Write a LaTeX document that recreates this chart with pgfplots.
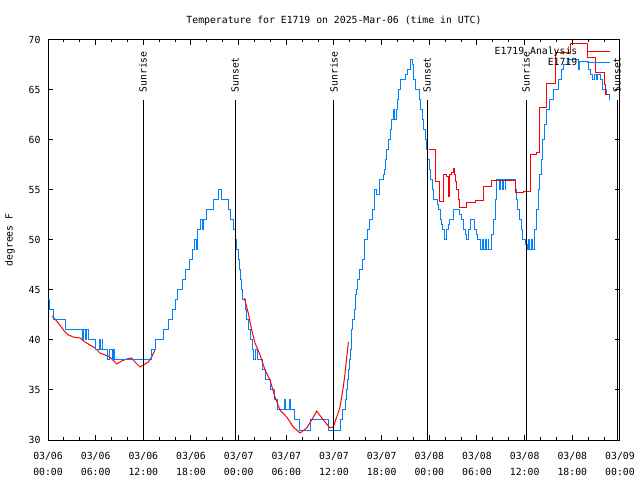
\documentclass[border=0pt]{standalone}
\usepackage{fontspec}
\setmainfont{DejaVu Sans Mono}
\usepackage{pgfplots}
\pgfplotsset{compat=1.18}
\definecolor{obsblue}{RGB}{0,128,255}
\newcommand\f{\fontsize{9.8bp}{11bp}\selectfont}
\begin{document}
\begin{tikzpicture}
\useasboundingbox (0,0) rectangle (640bp,480bp);
\begin{axis}[
  at={(48bp,40bp)}, anchor=south west,
  scale only axis, width=572bp, height=400bp,
  xmin=0, xmax=72, ymin=30, ymax=70,
  axis line style={line width=1bp, black},
  tick align=inside,
  major tick length=5bp, minor tick length=2.5bp,
  tick style={black, line width=1bp},
  xtick={0,6,...,72},
  minor xtick={0,2,...,72},
  xticklabels={{03/06\\00:00},{03/06\\06:00},{03/06\\12:00},{03/06\\18:00},
    {03/07\\00:00},{03/07\\06:00},{03/07\\12:00},{03/07\\18:00},
    {03/08\\00:00},{03/08\\06:00},{03/08\\12:00},{03/08\\18:00},{03/09\\00:00}},
  xticklabel style={align=center, font=\fontsize{9.8bp}{16bp}\selectfont, anchor=north, yshift=-9bp},
  ytick={30,35,...,70},
  yticklabel style={font=\f, xshift=-4bp},
  /pgf/number format/assume math mode=true,
  title={Temperature for E1719 on 2025-Mar-06 (time in UTC)},
  title style={font=\f, at={(axis description cs:0.5,1)}, anchor=center, yshift=13bp},
  ylabel={degrees F},
  ylabel style={font=\f, at={(axis description cs:-0.0664,0.5)}, anchor=center},
  legend plot pos=right,
  legend image code/.code={\draw[#1, line width=1bp] (0bp,0bp) -- (23bp,0bp);},
  legend style={draw=none, fill=none, font=\f, at={(axis description cs:0.9895,0.992)}, anchor=north east,
    row sep=-2bp, cells={anchor=east}, /tikz/every odd column/.style={column sep=7.5bp}},
  clip=false,
]
% analysis (red)
\addplot[red, line width=1bp] coordinates {
(0.54,42.4)(1.30,41.7)(2.14,40.8)(2.56,40.5)(3.18,40.3)(4.03,40.2)(4.66,39.8)(5.29,39.5)(5.92,39.2)(6.55,38.7)(7.18,38.5)(7.80,38.3)(8.65,37.6)(9.28,37.9)(9.91,38.1)(10.54,38.2)(10.95,37.8)(11.58,37.3)(12.00,37.5)(12.63,37.8)(13.05,38.3)(13.47,39.0)
};
\addlegendentry{E1719 Analysis}
\addplot[obsblue, line width=1bp, const plot] coordinates {
(0.00,44)(0.25,43)(0.63,42)(2.14,41)(4.37,40)(4.53,41)(4.66,40)(4.85,41)(5.04,40)(6.04,39)(6.42,40)(6.55,39)(6.80,40)(6.92,39)(7.55,38)(7.80,39)(8.06,38)(8.25,39)(8.37,38)
(13.09,39)(13.53,40)(14.48,41)(15.11,42)(15.61,43)(15.99,44)(16.24,45)(16.87,46)(17.37,47)(17.75,48)(18.25,49)(18.50,50)(18.69,49)(18.88,51)(19.20,52)(19.39,51)(19.57,52)(20.01,53)(20.77,54)(21.46,55)(21.84,54)(22.66,53)(22.91,52)(23.29,51)(23.54,50)(23.73,49)(23.98,48)(24.11,47)(24.23,46)(24.36,45)(24.48,44)(24.86,43)(24.99,42)(25.18,41)(25.55,40)(25.74,39)(25.87,38)(26.18,39)(26.37,38)(26.94,37)(27.44,36)(28.07,35)(28.45,34)(28.95,33)(29.71,34)(29.89,33)(30.34,34)(30.53,33)(31.09,32)(31.60,31)(32.98,32)(35.25,31)(36.76,32)(37.13,33)(37.39,34)(37.57,35)(37.70,36)(37.83,37)(37.95,38)(38.08,39)(38.20,41)(38.33,42)(38.52,43)(38.65,44.5)(38.77,45)(38.90,46)(39.27,47)(39.53,48)(39.78,49)(39.90,50)(40.16,51)(40.53,52)(40.79,53)(41.04,54)(41.16,55)(41.41,54.5)(41.67,55)(41.79,56)(42.17,56.5)(42.36,57)(42.42,58)(42.67,59)(42.86,60)(43.05,61)(43.30,62)(43.43,63)(43.62,62)(43.81,63)(43.99,64)(44.18,65)(44.31,66)(44.94,66.5)(45.19,67)(45.69,68)(45.88,67.5)(46.07,66)(46.32,65)(46.70,64)(46.89,63)(47.08,62)(47.27,61)(47.46,60)(47.65,59)(47.83,58)(48.02,57)(48.21,56)(48.34,55)(48.53,54)(48.97,53.5)(49.16,53)(49.35,52)(49.53,51.5)(49.72,51)(49.91,50.5)(49.97,50)(50.10,51)(50.35,51.5)(50.60,52)(50.98,53)(51.74,52.5)(51.99,52)(52.24,51)(52.49,50.5)(52.68,50)(52.87,51)(53.12,52)(53.63,51)(53.88,50.5)(54.07,50)(54.38,49)(54.63,50)(54.76,49)(55.01,50)(55.14,49)(55.39,50)(55.51,49)(55.77,50.5)(56.02,52)(56.27,54)(56.45,56)(56.77,55)(56.90,56)(57.15,55)(57.28,56)(57.53,55)(57.65,56)(58.85,55)(58.97,54)(59.16,53)(59.35,52)(59.54,51)(59.79,50)(60.05,49.5)(60.30,49)(60.49,50)(60.61,49)(60.80,50)(60.93,49)(61.18,50)(61.30,51)(61.49,53)(61.68,55)(61.87,56.5)(62.06,58)(62.25,60)(62.44,61.5)(62.69,63)(63.07,64)(63.57,65)(64.20,66)(64.58,67)(64.95,67.5)(65.33,68)(66.72,67)(66.91,67.8)(67.98,67)(68.23,66.5)(68.48,66)(68.73,66.5)(68.98,66)(69.23,66.5)(69.49,66)(69.86,65)(70.24,64.5)(70.62,64)(70.74,64)
};
\addlegendentry{E1719}
\addplot[red, line width=1bp, forget plot] coordinates {
(24.71,44.2)(25.21,42.7)(25.64,41)(26.06,39.7)(26.69,38.5)(27.32,37)(27.94,36)(28.57,34.3)(29.20,33)(30.05,32.3)(30.88,31.3)(31.72,30.7)(32.57,31.2)(33.19,32)(33.82,32.9)(34.66,32)(35.50,31.2)(35.91,31.3)(36.34,32.3)(36.76,33.3)(37.17,35.3)(37.39,36.7)(37.61,38.3)(37.81,39.8)
};
\addplot[red, line width=1bp, const plot, forget plot] coordinates {
(48.00,59)(48.72,55.8)(49.26,53.8)(49.79,56.5)(50.10,56.3)(50.42,54.3)(50.54,56.5)(50.79,56.7)(50.98,57.1)(51.17,56.5)(51.30,55.8)(51.45,55)(51.65,54)(51.86,53.2)(52.62,53.7)(53.75,53.9)(54.80,55.3)(55.85,55.9)(58.87,54.7)(59.83,54.8)(60.76,58.5)(61.43,58.7)(61.93,63.2)(62.78,65.6)(63.82,68.7)(65.80,69.6)(67.89,68.2)(68.86,66.7)(69.99,65.5)(70.18,64.5)(70.74,64.5)
};
% sunrise / sunset
\addplot[black, line width=1bp, forget plot] coordinates {(11.96,30)(11.96,64)} node[pos=1, rotate=90, anchor=west, inner xsep=7bp, inner ysep=0pt, font=\f] {Sunrise};
\addplot[black, line width=1bp, forget plot] coordinates {(23.54,30)(23.54,64)} node[pos=1, rotate=90, anchor=west, inner xsep=7bp, inner ysep=0pt, font=\f] {Sunset};
\addplot[black, line width=1bp, forget plot] coordinates {(36.00,30)(36.00,64)} node[pos=1, rotate=90, anchor=west, inner xsep=7bp, inner ysep=0pt, font=\f] {Sunrise};
\addplot[black, line width=1bp, forget plot] coordinates {(47.71,30)(47.71,64)} node[pos=1, rotate=90, anchor=west, inner xsep=7bp, inner ysep=0pt, font=\f] {Sunset};
\addplot[black, line width=1bp, forget plot] coordinates {(60.17,30)(60.17,64)} node[pos=1, rotate=90, anchor=west, inner xsep=7bp, inner ysep=0pt, font=\f] {Sunrise};
\addplot[black, line width=1bp, forget plot] coordinates {(71.63,30)(71.63,64)} node[pos=1, rotate=90, anchor=west, inner xsep=7bp, inner ysep=0pt, font=\f] {Sunset};
\end{axis}
\end{tikzpicture}
\end{document}
